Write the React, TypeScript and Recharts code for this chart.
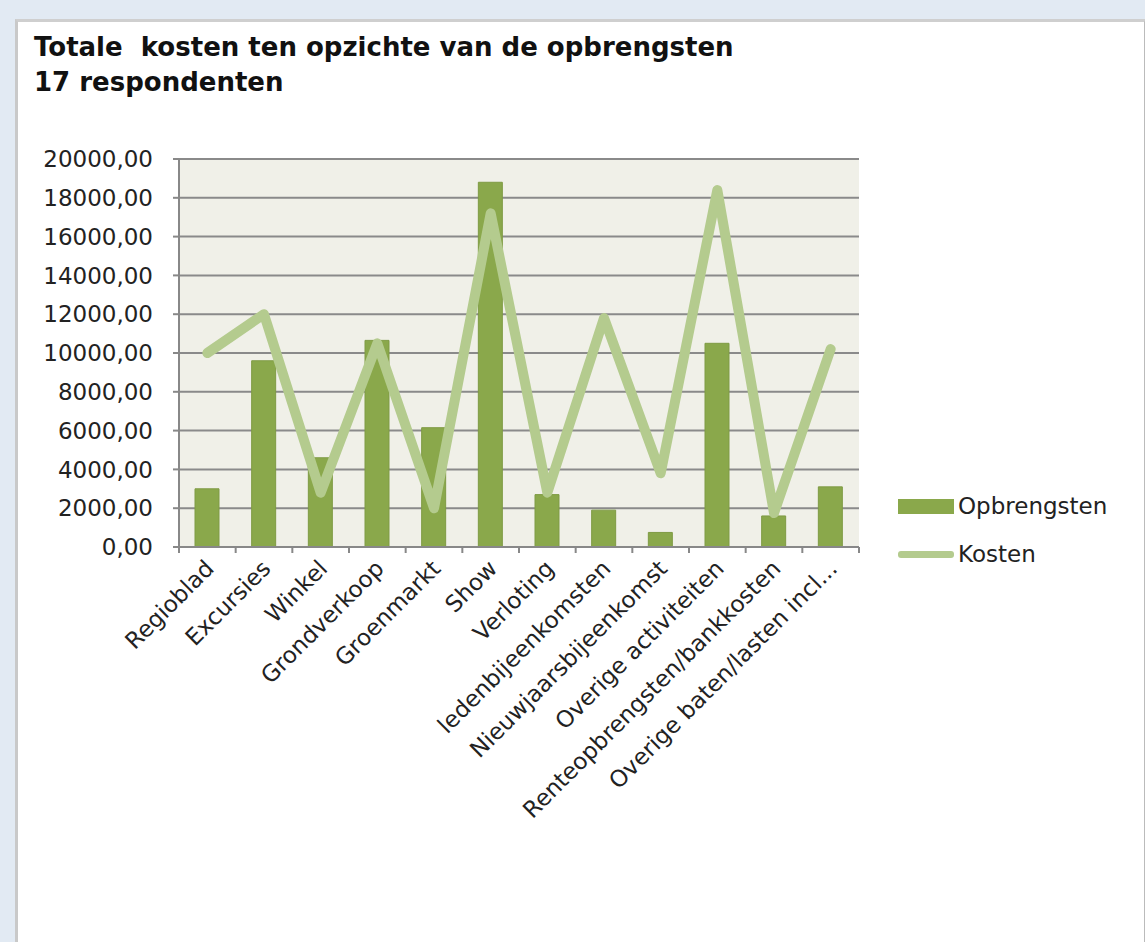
import React from "react";
import {
  ComposedChart,
  Bar,
  Line,
  XAxis,
  YAxis,
  CartesianGrid,
} from "recharts";

const categories = [
  "Regioblad",
  "Excursies",
  "Winkel",
  "Grondverkoop",
  "Groenmarkt",
  "Show",
  "Verloting",
  "ledenbijeenkomsten",
  "Nieuwjaarsbijeenkomst",
  "Overige activiteiten",
  "Renteopbrengsten/bankkosten",
  "Overige baten/lasten incl...",
];
const opbrengsten = [3000, 9600, 4600, 10650, 6150, 18800, 2700, 1900, 750, 10500, 1600, 3100];
const kosten = [10000, 12000, 2800, 10500, 2000, 17200, 2800, 11800, 3800, 18400, 1750, 10200];
const yTicks = [0, 2000, 4000, 6000, 8000, 10000, 12000, 14000, 16000, 18000, 20000];
const seriesNames = ["Opbrengsten", "Kosten"];

const data = categories.map((name, i) => ({
  name,
  Opbrengsten: opbrengsten[i],
  Kosten: kosten[i],
}));

const BAR_COLOR = "#8aa84b";
const LINE_COLOR = "#b4cb8e";
const FONT = "'DejaVu Sans', Verdana, sans-serif";
const BAND = 680 / categories.length;

const fmt = (v: number) => v.toFixed(2).replace(".", ",");

function XTick(props: any) {
  const { x, y, payload, index } = props;
  const last = index === categories.length - 1;
  const tx = x + 8;
  const ty = y + 15;
  return (
    <g>
      <line x1={x - BAND / 2} y1={y - 8} x2={x - BAND / 2} y2={y - 2} stroke="#888" strokeWidth={2} />
      {last && (
        <line x1={x + BAND / 2} y1={y - 8} x2={x + BAND / 2} y2={y - 2} stroke="#888" strokeWidth={2} />
      )}
      <text
        x={tx}
        y={ty}
        textAnchor="end"
        transform={`rotate(-45, ${tx}, ${ty})`}
        fontSize={23}
        fontFamily={FONT}
        fill="#222"
      >
        {payload.value}
      </text>
    </g>
  );
}

export default function App() {
  return (
    <div
      style={{
        position: "absolute",
        left: 0,
        top: 0,
        width: 1145,
        height: 942,
        background: "#e2eaf3",
        overflow: "hidden",
      }}
    >
      <div
        style={{
          position: "absolute",
          left: 15,
          top: 19,
          width: 1126,
          height: 940,
          background: "#fff",
          borderLeft: "3px solid #c9c9c9",
          borderTop: "3px solid #cfcfcf",
          borderRight: "2px solid #bbb",
        }}
      />
      <div
        style={{
          position: "absolute",
          left: 34,
          top: 30,
          fontFamily: FONT,
          fontWeight: "bold",
          fontSize: 26,
          lineHeight: "35px",
          color: "#111",
          whiteSpace: "pre",
        }}
      >
        {"Totale  kosten ten opzichte van de opbrengsten\n17 respondenten"}
      </div>
      <div style={{ position: "absolute", left: 0, top: 0 }}>
        <ComposedChart
          width={1145}
          height={942}
          data={data}
          margin={{ top: 159, right: 286, bottom: 145, left: 79 }}
        >
          <CartesianGrid
            vertical={false}
            stroke="#8a8a8a"
            strokeWidth={2}
            fill="#f0f0e8"
          />
          <XAxis
            dataKey="name"
            interval={0}
            height={250}
            tickLine={false}
            axisLine={{ stroke: "#888", strokeWidth: 2 }}
            tick={<XTick />}
          />
          <YAxis
            width={100}
            domain={[0, 20000]}
            ticks={yTicks}
            interval={0}
            tickFormatter={fmt}
            tickSize={6}
            tickMargin={20}
            axisLine={{ stroke: "#888", strokeWidth: 2 }}
            tickLine={{ stroke: "#888", strokeWidth: 2 }}
            tick={{ fontSize: 23, fontFamily: FONT, fill: "#222" }}
          />
          <Bar
            dataKey="Opbrengsten"
            fill={BAR_COLOR}
            stroke="#7f9b44"
            strokeWidth={1}
            barSize={24}
            isAnimationActive={false}
          />
          <Line
            dataKey="Kosten"
            type="linear"
            stroke={LINE_COLOR}
            strokeWidth={10}
            strokeLinejoin="round"
            strokeLinecap="round"
            dot={false}
            activeDot={false}
            isAnimationActive={false}
          />
        </ComposedChart>
      </div>
      <div
        style={{
          position: "absolute",
          left: 898,
          top: 482,
          fontFamily: FONT,
          fontSize: 23,
          color: "#222",
        }}
      >
        {seriesNames.map((name) => (
          <div key={name} style={{ display: "flex", alignItems: "center", height: 48 }}>
            {name === "Opbrengsten" ? (
              <div style={{ width: 56, height: 15, background: BAR_COLOR, marginRight: 4 }} />
            ) : (
              <div style={{ width: 56, height: 7, background: LINE_COLOR, borderRadius: 3, marginRight: 4 }} />
            )}
            <span>{name}</span>
          </div>
        ))}
      </div>
    </div>
  );
}
